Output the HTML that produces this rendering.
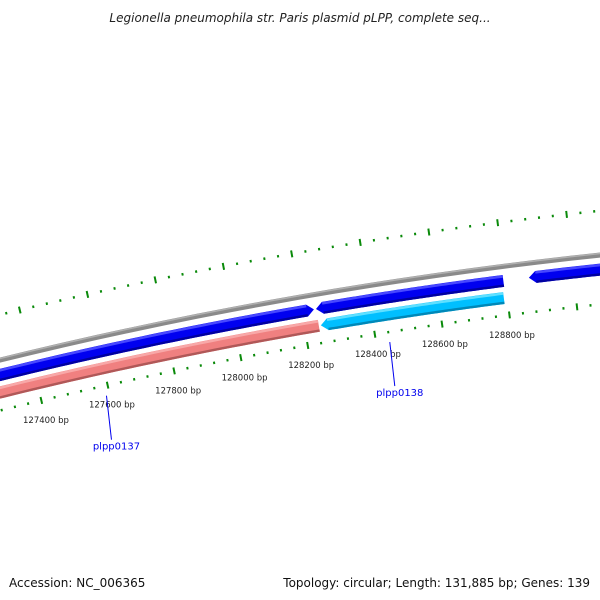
<!DOCTYPE html>
<html><head><meta charset="utf-8"><style>
html,body{margin:0;padding:0;background:#fff;}
svg{display:block;font-family:"DejaVu Sans","Liberation Sans",sans-serif;}
</style></head><body>
<svg id="map" width="600" height="600" viewBox="0 0 600 600" xmlns="http://www.w3.org/2000/svg">
<text x="300" y="22" text-anchor="middle" font-size="12" font-style="italic" fill="#222">Legionella pneumophila str. Paris plasmid pLPP, complete seq...</text>
<text x="9" y="587" font-size="12" fill="#111">Accession: NC_006365</text>
<text x="590" y="587" text-anchor="end" font-size="12" fill="#111">Topology: circular; Length: 131,885 bp; Genes: 139</text>
<g id="layer"></g>
</svg>
<script>
// data
const tickStart = 126800;
const tickEnd = 129400;
const tickStep = 40;
const majorStep = 200;
const tickLabels = [127400,127600,127800,128000,128200,128400,128600,128800];
const geneNames = ["plpp0137-fwd","plpp0137","plpp0138-fwd","plpp0138","next-gene"];
const geneStarts = [126500,126500,128242,128248,128870];
const geneEnds   = [128236,128242,128795,128790,129800];
const geneStrands = [1,-1,-1,-1,-1];
const geneRings = ["fwd","rev","fwd","rev","fwd"];
const geneColors = ["#0000f0","#f08080","#0000f0","#00bfff","#0000f0"];
const geneLabels = ["plpp0137","plpp0138"];
const geneLabelPos = [127590,128440];

const CX=1074, CY=4730, PPB=7.64e-5, PHI0=-0.1883, BP0=128000;
const R={backbone:4500, fwd:4485.5, rev:4468.5, innerTick:4451, innerLab:4431, outerTick:4544};
const dark={"#0000f0":"#0000a0","#f08080":"#b05858","#00bfff":"#0088b8"};
const light={"#0000f0":"#4848ff","#f08080":"#f8a8a8","#00bfff":"#60e0ff"};
const NS="http://www.w3.org/2000/svg";
const layer=document.getElementById('layer');
function ang(bp){return PHI0+(bp-BP0)*PPB;}
function pt(bp,r){const a=ang(bp);return [CX+r*Math.sin(a),CY-r*Math.cos(a)];}
function arcD(b1,b2,r){let d="";const n=60;for(let i=0;i<=n;i++){const p=pt(b1+(b2-b1)*i/n,r);d+=(i?"L":"M")+p[0].toFixed(2)+" "+p[1].toFixed(2);}return d;}
function mk(tag,attrs){const e=document.createElementNS(NS,tag);for(const k in attrs)e.setAttribute(k,attrs[k]);layer.appendChild(e);return e;}

// backbone
let bb=mk('path',{d:arcD(125000,131000,R.backbone),stroke:"#8a8a8a","stroke-width":5,fill:"none"});


let bbh=mk('path',{d:arcD(125000,131000,R.backbone+1.5),stroke:"#b0b0b0","stroke-width":1.5,fill:"none"});



// ticks
for(let bp=tickStart;bp<=tickEnd;bp+=tickStep){
  const major=bp%majorStep===0;
  const len=major?7:2.5;
  [R.innerTick,R.outerTick].forEach((r,j)=>{
    const a=pt(bp,r-len/2),b=pt(bp,r+len/2);
    const t=mk('line',{x1:a[0],y1:a[1],x2:b[0],y2:b[1],stroke:"#0a8a0a","stroke-width":2});
    
    
  });
}
tickLabels.forEach(bp=>{
  const p=pt(bp,R.innerLab);
  const t=mk('text',{x:p[0],y:p[1]+3,"text-anchor":"middle","font-size":"8.5",fill:"#222"});
  t.textContent=bp+" bp";
  
  
});

// genes
geneNames.forEach((nm,i)=>{
  const r=R[geneRings[i]], w=12, s=geneStarts[i], e=geneEnds[i], dir=geneStrands[i];
  const headBp=7/(r*PPB);
  let a=s,b=e;
  if(dir<0)a=s+headBp;else b=e-headBp;
  const pts=[];const n=60;
  for(let k=0;k<=n;k++)pts.push(pt(a+(b-a)*k/n,r+w/2));
  if(dir>0)pts.push(pt(e,r));
  for(let k=n;k>=0;k--)pts.push(pt(a+(b-a)*k/n,r-w/2));
  if(dir<0)pts.push(pt(s,r));
  const g=mk('polygon',{points:pts.map(p=>p[0].toFixed(2)+","+p[1].toFixed(2)).join(" "),fill:geneColors[i]});
  
  
  const hl=mk('path',{d:arcD(a,b,r+w/2-1.5),stroke:light[geneColors[i]],"stroke-width":2.5,fill:"none"});
  
  
  const sh=mk('path',{d:arcD(a,b,r-w/2+1.2),stroke:dark[geneColors[i]],"stroke-width":2.4,fill:"none"});
  
  
});

// gene labels
geneLabels.forEach((lab,i)=>{
  const bp=geneLabelPos[i];
  const a=pt(bp,R.innerTick-10);
  const b=[a[0]+5,a[1]+44];
  const l=mk('line',{x1:a[0],y1:a[1],x2:b[0],y2:b[1],stroke:"#0000ee","stroke-width":1});
  
  
  const t=mk('text',{x:b[0]+5,y:b[1]+10,"text-anchor":"middle","font-size":"10",fill:"#0000ee"});
  t.textContent=lab;
  
  
});
</script>
</body></html>
